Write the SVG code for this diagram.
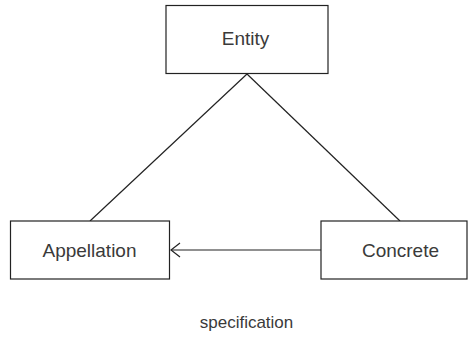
<svg xmlns="http://www.w3.org/2000/svg" width="470" height="337" viewBox="0 0 470 337">
<defs>
<style>
.box{fill:#fff;stroke:#222;stroke-width:1.2}
.lbl{font-family:"Liberation Sans",Arial,sans-serif;font-size:19px;fill:#3a3a3a;text-anchor:middle}
.edge{stroke:#222;stroke-width:1.2;fill:none}
</style>
<marker id="open" markerWidth="12" markerHeight="16" refX="10" refY="8" orient="auto" markerUnits="userSpaceOnUse">
<path d="M1,1 L10,8 L1,15" fill="none" stroke="#222" stroke-width="1.2"/>
</marker>
</defs>
<rect width="470" height="337" fill="#fff"/>
<g id="connectors">
<line class="edge" x1="247" y1="74" x2="90" y2="221"/>
<line class="edge" x1="247" y1="74" x2="400" y2="221"/>
<line class="edge" x1="321" y1="250" x2="171" y2="250" marker-end="url(#open)"/>
</g>
<g id="entity">
<rect class="box" x="166" y="5.5" width="162" height="68"/>
<text class="lbl" x="245.5" y="44.5">Entity</text>
</g>
<g id="appellation">
<rect class="box" x="10.5" y="221" width="159" height="58"/>
<text class="lbl" x="89.5" y="257">Appellation</text>
</g>
<g id="concrete">
<rect class="box" x="321" y="221" width="146" height="58"/>
<text class="lbl" x="400.5" y="257">Concrete</text>
</g>
<text class="lbl" x="246.5" y="328" style="font-size:17px">specification</text>
</svg>
